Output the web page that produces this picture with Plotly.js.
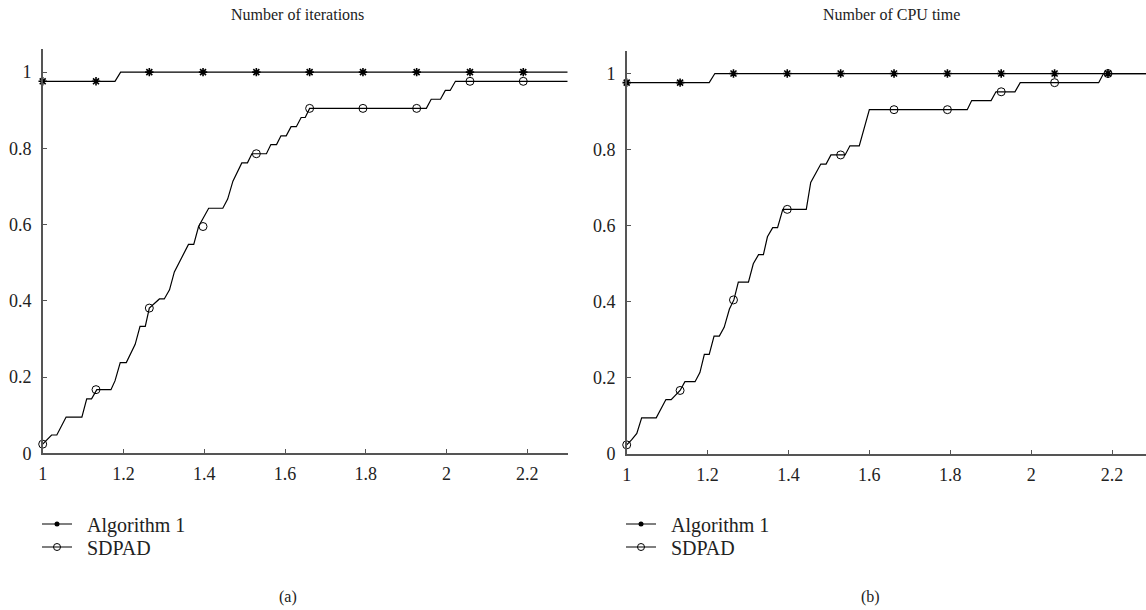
<!DOCTYPE html>
<html>
<head>
<meta charset="utf-8">
<script src="https://cdn.plot.ly/plotly-3.0.1.min.js"></script>
<style>html,body{margin:0;padding:0;background:#fff;}#chart{width:1146px;height:610px;}</style>
</head>
<body>
<div id="chart"></div>
<script>
// ---- Data ----
// Panel (a): Number of iterations
var itSdpadX = [1.000,1.022,1.035,1.058,1.097,1.109,1.121,1.134,1.169,1.179,1.192,1.207,1.229,1.241,1.254,1.264,1.289,1.301,1.314,1.326,1.361,1.374,1.386,1.411,1.446,1.458,1.471,1.493,1.507,1.518,1.554,1.565,1.579,1.590,1.603,1.615,1.628,1.640,1.650,1.661,1.950,1.962,1.985,1.997,2.009,2.022,2.300];
var itSdpadY = [0.024,0.048,0.048,0.095,0.095,0.143,0.143,0.167,0.167,0.190,0.238,0.238,0.286,0.333,0.333,0.381,0.405,0.405,0.429,0.476,0.548,0.548,0.595,0.643,0.643,0.667,0.714,0.762,0.762,0.786,0.786,0.810,0.810,0.833,0.833,0.857,0.857,0.881,0.881,0.905,0.905,0.929,0.929,0.952,0.952,0.976,0.976];
var itAlgX = [1.000,1.179,1.193,2.300];
var itAlgY = [0.976,0.976,1.000,1.000];

// Panel (b): Number of CPU time
var cpuSdpadX = [1.000,1.012,1.025,1.037,1.073,1.097,1.110,1.132,1.144,1.169,1.181,1.192,1.204,1.216,1.229,1.241,1.254,1.265,1.276,1.301,1.313,1.326,1.338,1.348,1.361,1.373,1.386,1.444,1.455,1.480,1.493,1.505,1.540,1.552,1.575,1.600,1.842,1.853,1.901,1.913,1.960,1.973,2.167,2.179,2.300];
var cpuSdpadY = [0.024,0.037,0.054,0.095,0.095,0.143,0.143,0.167,0.190,0.190,0.214,0.262,0.262,0.310,0.310,0.333,0.381,0.405,0.452,0.452,0.500,0.524,0.524,0.571,0.595,0.595,0.643,0.643,0.714,0.762,0.762,0.786,0.786,0.810,0.810,0.905,0.905,0.929,0.929,0.952,0.952,0.976,0.976,1.000,1.000];
var cpuAlgX = [1.000,1.204,1.218,2.300];
var cpuAlgY = [0.976,0.976,1.000,1.000];

// Marker positions
var markX = [1.000,1.132,1.264,1.397,1.529,1.661,1.793,1.926,2.058,2.190];
var itSdpadMarkY = [0.024,0.167,0.381,0.595,0.786,0.905,0.905,0.905,0.976,0.976];
var itAlgMarkY = [0.976,0.976,1,1,1,1,1,1,1,1];
var cpuSdpadMarkY = [0.024,0.167,0.405,0.643,0.786,0.905,0.905,0.952,0.976,1.000];
var cpuAlgMarkY = [0.976,0.976,1,1,1,1,1,1,1,1];

var seriesNames = ['Algorithm 1','SDPAD'];
var panelTitles = ['Number of iterations','Number of CPU time'];
var panelLabels = ['(a)','(b)'];

// ---- Styles ----
var FONT = 'Liberation Serif';
var W = 1146, H = 610;
function px(x){return x/W;}
function py(y){return (H-y)/H;}
var lineStyle = {color:'#000', width:1.2};
var starMarker = {symbol:'asterisk-open', size:7, color:'#000', line:{color:'#000', width:1.6}};
var circMarker = {symbol:'circle-open', size:8, color:'#000', line:{color:'#000', width:1}};
var GAP = '\u2002';

function panel(xa, ya, algX, algY, sdX, sdY, algMY, sdMY, legA, legB){
  return [
    {x:algX, y:algY, xaxis:xa, yaxis:ya, mode:'lines', line:lineStyle, showlegend:false, hoverinfo:'skip'},
    {x:sdX, y:sdY, xaxis:xa, yaxis:ya, mode:'lines', line:lineStyle, showlegend:false, hoverinfo:'skip'},
    {x:markX, y:algMY, xaxis:xa, yaxis:ya, mode:'markers', marker:starMarker, showlegend:false, cliponaxis:false, hoverinfo:'skip'},
    {x:markX, y:sdMY, xaxis:xa, yaxis:ya, mode:'markers', marker:circMarker, showlegend:false, cliponaxis:false, hoverinfo:'skip'},
    {x:[null], y:[null], xaxis:xa, yaxis:ya, mode:'lines+markers', name:GAP+seriesNames[0], line:lineStyle, marker:{symbol:'circle', size:5, color:'#000'}, legend:legA},
    {x:[null], y:[null], xaxis:xa, yaxis:ya, mode:'lines+markers', name:GAP+seriesNames[1], line:lineStyle, marker:{symbol:'circle-open', size:7, color:'#000', line:{color:'#000', width:1}}, legend:legB}
  ];
}

var data = [].concat(
  panel('x','y', itAlgX, itAlgY, itSdpadX, itSdpadY, itAlgMarkY, itSdpadMarkY, 'legend', 'legend2'),
  panel('x2','y2', cpuAlgX, cpuAlgY, cpuSdpadX, cpuSdpadY, cpuAlgMarkY, cpuSdpadMarkY, 'legend3', 'legend4')
);

var axisCommon = {
  showline:true, linecolor:'#555', linewidth:1.5, ticks:'inside', ticklen:4, tickwidth:1, tickcolor:'#555',
  showgrid:false, zeroline:false, tickfont:{family:FONT, size:18, color:'#222'}, fixedrange:true
};
function ax(extra){ return Object.assign({}, axisCommon, extra); }

var legendCommon = {
  xanchor:'left', yanchor:'middle', bgcolor:'rgba(0,0,0,0)', borderwidth:0,
  font:{family:FONT, size:20, color:'#222'}, itemwidth:30, tracegroupgap:0
};
function leg(xp, yp){ return Object.assign({}, legendCommon, {x:px(xp), y:py(yp)}); }

function ann(text, xp, yp){
  return {text:text, xref:'paper', yref:'paper', x:px(xp), y:py(yp), xanchor:'center', yanchor:'middle', showarrow:false, font:{family:FONT, size:16, color:'#222'}};
}

var layout = {
  width:W, height:H, margin:{l:0,r:0,t:0,b:0},
  paper_bgcolor:'#fff', plot_bgcolor:'#fff',
  font:{family:FONT},
  xaxis: ax({domain:[px(42.7), px(567.7)], range:[1,2.3], tick0:1, dtick:0.2, anchor:'y', ticklabelstandoff:4}),
  yaxis: ax({domain:[py(453.3), py(49.3)], range:[0,1.06], tick0:0, dtick:0.2, anchor:'x', ticklabelstandoff:6}),
  xaxis2: ax({domain:[px(626.7), 1], range:[1,2.284], tick0:1, dtick:0.2, anchor:'y2', ticklabelstandoff:4}),
  yaxis2: ax({domain:[py(454), py(50.7)], range:[0,1.06], tick0:0, dtick:0.2, anchor:'x2', ticklabelstandoff:6}),
  legend: leg(37, 524),
  legend2: leg(37, 547),
  legend3: leg(621, 524),
  legend4: leg(621, 547),
  annotations:[
    ann(panelTitles[0], 297, 14),
    ann(panelTitles[1], 891, 14),
    ann(panelLabels[0], 288, 597),
    ann(panelLabels[1], 870, 597)
  ],
  showlegend:true
};

Plotly.newPlot('chart', data, layout, {staticPlot:true, displayModeBar:false});
</script>
</body>
</html>
